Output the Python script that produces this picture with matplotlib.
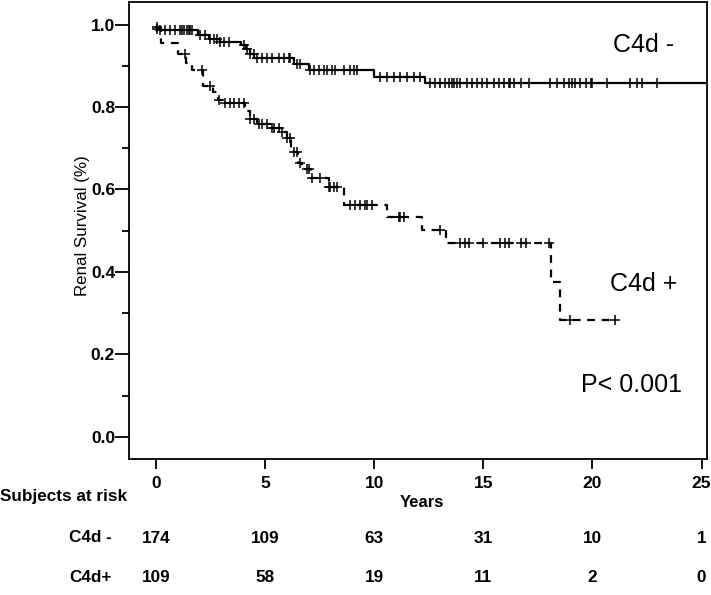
import numpy as np
import matplotlib
matplotlib.use('Agg')
import matplotlib.pyplot as plt

plt.rcParams['font.family'] = ['Liberation Sans', 'DejaVu Sans']

# Kaplan-Meier steps (years, survival)
neg_times = [0, 0.15, 1.9, 2.4, 2.9, 3.9, 4.1, 4.3, 4.5, 6.3, 7.0, 10.0, 12.3]
neg_surv = [0.994, 0.986, 0.975, 0.966, 0.958, 0.95, 0.94, 0.93, 0.918, 0.905, 0.891, 0.874, 0.858]
neg_end = 25.5
neg_censor = [0.03, 0.18, 0.41, 0.64, 0.87, 1.1, 1.18, 1.25, 1.41, 1.48, 1.56, 1.64,
              2.02, 2.25, 2.48, 2.63, 2.78, 2.94, 3.09, 3.32, 4.0, 4.16, 4.31, 4.46,
              4.62, 4.85, 5.08, 5.31, 5.61, 5.84, 6.07, 6.15, 6.45, 6.6, 7.06, 7.22,
              7.45, 7.67, 7.83, 8.06, 8.21, 8.59, 8.9, 9.05, 9.21, 10.28, 10.58, 10.89,
              11.19, 11.5, 11.8, 12.1, 12.57, 12.8, 13.03, 13.26, 13.41, 13.56, 13.64,
              13.8, 13.94, 14.25, 14.48, 14.71, 14.94, 15.17, 15.47, 15.7, 15.93, 16.16,
              16.24, 16.39, 16.7, 17.08, 18.07, 18.38, 18.68, 18.91, 19.07, 19.22, 19.45,
              19.68, 19.91, 19.99, 20.68, 21.74, 22.05, 22.28, 22.97]

pos_times = [0, 0.2, 1.0, 1.35, 1.65, 2.15, 2.6, 2.85, 3.1, 4.05, 4.3, 4.6, 5.2, 5.7,
             6.0, 6.2, 6.5, 6.7, 7.1, 7.9, 8.6, 10.6, 12.2, 13.3, 18.1, 18.5]
pos_surv = [0.99, 0.955, 0.93, 0.907, 0.891, 0.85, 0.837, 0.818, 0.81, 0.79, 0.77, 0.76,
            0.75, 0.74, 0.725, 0.69, 0.664, 0.65, 0.628, 0.606, 0.562, 0.534, 0.502,
            0.47, 0.375, 0.283]
pos_end = 21.05
pos_censor = [0.03, 1.33, 2.1, 2.48, 2.86, 3.17, 3.39, 3.55, 3.78, 4.0, 4.31, 4.46, 4.69,
              4.85, 5.08, 5.31, 5.38, 5.61, 5.77, 6.0, 6.15, 6.3, 6.45, 6.6, 6.91, 6.99,
              7.14, 7.52, 7.9, 7.98, 8.13, 8.29, 8.9, 9.13, 9.36, 9.59, 9.66, 9.89, 11.12,
              11.19, 11.35, 13.03, 13.94, 14.17, 14.33, 15.0, 15.78, 16.01, 16.16, 16.7,
              16.93, 18.0, 18.99, 21.05]

risk_years = [0, 5, 10, 15, 20, 25]
risk_neg = [174, 109, 63, 31, 10, 1]
risk_pos = [109, 58, 19, 11, 2, 0]


def surv_at(times, surv, t):
    idx = np.searchsorted(times, t, side='right') - 1
    return np.array(surv)[idx]


fig = plt.figure(figsize=(7.11, 5.95), dpi=100)
ax = fig.add_axes([129 / 711, 1 - 459 / 595, 578 / 711, 457 / 595])

# C4d - (solid)
ax.step(neg_times + [neg_end], neg_surv + [neg_surv[-1]], where='post',
        color='black', lw=1.6)
ax.plot(neg_censor, surv_at(neg_times, neg_surv, neg_censor), '+', color='black',
        ms=7, mew=1.1)

# C4d + (dashed)
ax.step(pos_times + [pos_end], pos_surv + [pos_surv[-1]], where='post',
        color='black', lw=1.6, dashes=(3.5, 3))
ax.plot(pos_censor, surv_at(pos_times, pos_surv, pos_censor), '+', color='black',
        ms=7, mew=1.1)

ax.set_xlim(-1.25, 25.25)
ax.set_ylim(-0.054, 1.055)
ax.set_xticks(risk_years)
ax.set_yticks([0, 0.2, 0.4, 0.6, 0.8, 1.0])
ax.set_yticks([0.1, 0.3, 0.5, 0.7, 0.9], minor=True)
ax.set_yticklabels(['0.0', '0.2', '0.4', '0.6', '0.8', '1.0'])
ax.tick_params(axis='both', which='major', direction='out', width=1.3, labelsize=12.5)
ax.tick_params(axis='y', which='major', length=10, pad=0)
ax.tick_params(axis='y', which='minor', direction='out', length=5, width=1.3)
ax.tick_params(axis='x', length=7, pad=5)
for lab in ax.get_xticklabels() + ax.get_yticklabels():
    lab.set_fontweight('bold')
for s in ax.spines.values():
    s.set_linewidth(1.3)

ax.set_ylabel('Renal Survival (%)', fontsize=12.2)
ax.yaxis.set_label_coords(-0.067, 0.51)

ax.text(0.89, 0.905, 'C4d -', transform=ax.transAxes, fontsize=18, ha='center', va='center')
ax.text(0.89, 0.382, 'C4d +', transform=ax.transAxes, fontsize=18, ha='center', va='center')
ax.text(0.87, 0.163, 'P< 0.001', transform=ax.transAxes, fontsize=18, ha='center', va='center')

# at-risk table
tr = ax.get_xaxis_transform()
ax.text(12.2, -0.096, 'Years', transform=tr, fontsize=12, fontweight='bold',
        ha='center', va='center')
fig.text(0.0, 1 - 497 / 595, 'Subjects at risk', fontsize=12.3, fontweight='bold',
         ha='left', va='center')
fig.text(69 / 711, 1 - 538 / 595, 'C4d -', fontsize=12.3, fontweight='bold',
         ha='left', va='center')
fig.text(69 / 711, 1 - 578 / 595, 'C4d+', fontsize=12.3, fontweight='bold',
         ha='left', va='center')
for yr, n1, n2 in zip(risk_years, risk_neg, risk_pos):
    ax.text(yr, -0.173, str(n1), transform=tr, fontsize=12.3, fontweight='bold',
            ha='center', va='center')
    ax.text(yr, -0.26, str(n2), transform=tr, fontsize=12.3, fontweight='bold',
            ha='center', va='center')

fig.savefig('out.png', dpi=100)
